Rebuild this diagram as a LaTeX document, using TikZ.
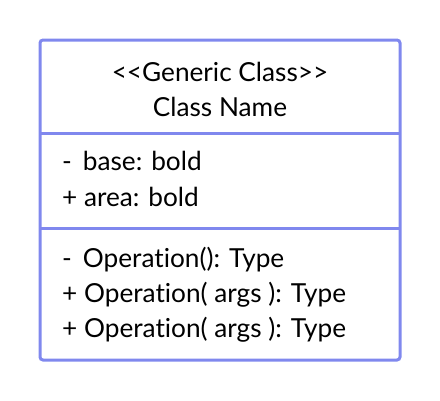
\documentclass[tikz,border=0pt]{standalone}
\usepackage{fontspec}
\setmainfont{Lato}[Ligatures={NoCommon,NoRare}]
\usetikzlibrary{positioning}
\definecolor{umlblue}{HTML}{8088EE}

\begin{document}
\begin{tikzpicture}[
    x=1pt, y=-1pt,
    classbox/.style={
        rectangle,
        draw=umlblue,
        line width=3pt,
        rounded corners=3pt,
        minimum width=360pt,
        minimum height=320pt,
        inner sep=0pt
    },
    divider/.style={draw=umlblue, line width=3pt},
    title/.style={anchor=base, inner sep=0pt, font=\fontsize{26.2}{30}\selectfont},
    member/.style={anchor=base west, inner sep=0pt, font=\fontsize{26.2}{30}\selectfont}
]
\useasboundingbox (0,0) rectangle (440,400);

% Class outline
\node[classbox] (cls) at (220,200) {};

% Compartment dividers
\coordinate (d1w) at (40,133);
\coordinate (d1e) at (400,133);
\coordinate (d2w) at (40,228);
\coordinate (d2e) at (400,228);
\draw[divider] (d1w) -- (d1e);
\draw[divider] (d2w) -- (d2e);

% Name compartment
\node[title] (stereo) at (220,81) {<{}<Generic Class>{}>};
\node[title] (name) at (220,116) {Class Name};

% Attributes
\node[member] (attr1) at (62,170) {-\hspace{0.42em}base: bold};
\node[member] (attr2) at (62,206) {+ area: bold};

% Operations
\node[member] (op1) at (62,267) {-\hspace{0.42em}Operation(): Type};
\node[member] (op2) at (62,302) {+ Operation( args ): Type};
\node[member] (op3) at (62,337) {+ Operation( args ): Type};

\end{tikzpicture}
\end{document}
